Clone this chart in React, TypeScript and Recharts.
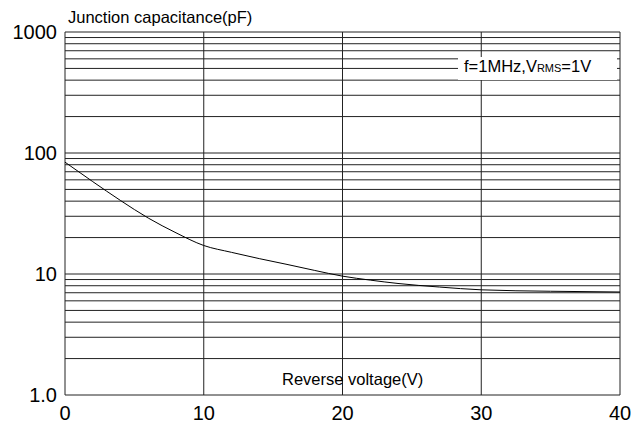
import { LineChart, Line, XAxis, YAxis, ReferenceLine } from "recharts";

// reverse voltage (V) vs junction capacitance (pF)
const voltage = [0, 2, 4, 6, 8, 10, 12, 14, 16, 18, 20, 22, 24, 27, 30, 35, 40];
const capacitance = [84, 58, 40.5, 29, 21.9, 17.2, 15.1, 13.4, 12.0, 10.7, 9.6, 8.9, 8.35, 7.8, 7.4, 7.2, 7.1];

const xTicks = [0, 10, 20, 30, 40];
const yTicks = [1, 10, 100, 1000];
const gridY = [
  1, 2, 3, 4, 5, 6, 7, 8, 9,
  10, 20, 30, 40, 50, 60, 70, 80, 90,
  100, 200, 300, 400, 500, 600, 700, 800, 900,
  1000,
];

const data = voltage.map((v, i) => ({ v, c: capacitance[i] }));

const FONT = "'Liberation Sans', Arial, sans-serif";
const GRID = "#222";

export default function App() {
  return (
    <div style={{ position: "absolute", left: 0, top: 0, width: 640, height: 423, background: "#fff" }}>
      <LineChart width={640} height={423} data={data} margin={{ top: 32, right: 20, left: 0, bottom: 0 }}>
        <XAxis
          dataKey="v"
          type="number"
          domain={[0, 40]}
          ticks={xTicks}
          height={28}
          tickLine={false}
          axisLine={false}
          tickMargin={5}
          tick={{ fontSize: 20, fill: "#000", fontFamily: FONT }}
        />
        <YAxis
          type="number"
          scale="log"
          domain={[1, 1000]}
          allowDataOverflow
          ticks={yTicks}
          width={65}
          tickLine={false}
          axisLine={false}
          tickFormatter={(v: number) => (v === 1 ? "1.0" : String(v))}
          tick={{ fontSize: 20, fill: "#000", fontFamily: FONT }}
        />
        {gridY.map((g) => (
          <ReferenceLine key={`y${g}`} y={g} stroke={GRID} strokeWidth={1} />
        ))}
        {xTicks.map((g) => (
          <ReferenceLine key={`x${g}`} x={g} stroke={GRID} strokeWidth={1} />
        ))}
        <Line
          type="monotone"
          dataKey="c"
          stroke="#000"
          strokeWidth={1}
          dot={false}
          activeDot={false}
          isAnimationActive={false}
        />
      </LineChart>
      <svg
        width={640}
        height={423}
        style={{ position: "absolute", left: 0, top: 0, pointerEvents: "none" }}
        fontFamily={FONT}
      >
        <text x={68} y={23} fontSize={16.5} fill="#000">Junction capacitance(pF)</text>
        <text x={282} y={385} fontSize={16.5} fill="#000">Reverse voltage(V)</text>
        <rect x={458} y={57} width={159} height={23} fill="#fff" />
        <text x={464} y={72} fontSize={16.5} fill="#000">
          f=1MHz,V<tspan fontSize={11}>RMS</tspan>=1V
        </text>
      </svg>
    </div>
  );
}
